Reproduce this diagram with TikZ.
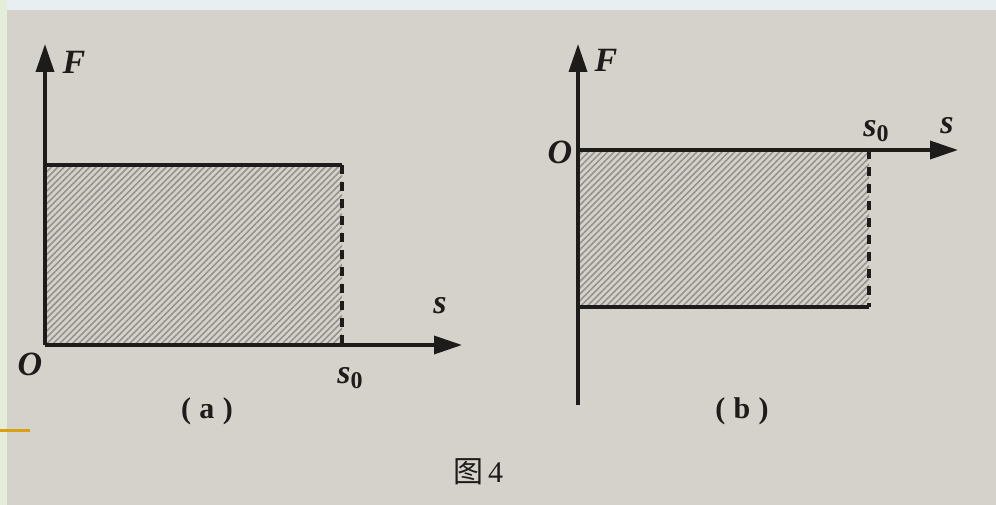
\documentclass[tikz,border=0pt]{standalone}
\usepackage{fontspec}
\setmainfont{Liberation Serif}
\newfontfamily\cjk{Noto Sans CJK SC}
\usetikzlibrary{arrows.meta,patterns.meta}
\definecolor{paper}{HTML}{D5D2CC}
\definecolor{hatchbg}{HTML}{C2BFBA}
\definecolor{hatchln}{HTML}{96938F}
\definecolor{ink}{HTML}{1E1C1A}
\definecolor{stripg}{HTML}{E4ECDA}
\definecolor{stripb}{HTML}{E8EEF2}
\definecolor{ylw}{HTML}{D9A012}
\tikzset{
  axis/.style={draw=ink,line width=3.5pt,-{Triangle[length=28pt,width=18pt]}},
  edge/.style={draw=ink,line width=3.5pt},
  dashedge/.style={draw=ink,line width=3.5pt,dash pattern=on 9pt off 8pt},
  hatch/.style={fill=hatchbg,pattern={Lines[angle=45,distance=4.5pt,line width=1.6pt]},pattern color=hatchln},
  lbl/.style={text=ink,font=\fontsize{34}{36}\selectfont\bfseries\itshape,inner sep=0pt},
  sublbl/.style={text=ink,font=\fontsize{30}{32}\selectfont\bfseries,inner sep=0pt},
  figcap/.style={text=ink,font=\fontsize{30}{32}\selectfont,inner sep=0pt}
}
\newcommand{\subzero}{\raisebox{-5pt}{\fontsize{24}{26}\selectfont\upshape 0}}
\begin{document}
\begin{tikzpicture}[x=1pt,y=-1pt]
\useasboundingbox (0,0) rectangle (996,505);
\fill[paper] (0,0) rectangle (996,505);
\fill[stripb] (0,0) rectangle (996,10);
\fill[stripg] (0,0) rectangle (7,505);
\draw[ylw,line width=3pt] (0,430) -- (30,430);
% panel (a)
\coordinate (aO) at (45,345);
\coordinate (aTop) at (45,44);
\coordinate (aRight) at (462,345);
\coordinate (aR1) at (45,165);
\coordinate (aR2) at (342,165);
\coordinate (aR3) at (342,345);
\fill[hatch] (aO) rectangle (aR2);
\draw[edge] (aR1) -- (aR2);
\draw[dashedge] (aR2) -- (aR3);
\draw[axis] (aO) -- (aTop);
\draw[axis] (aO) -- (aRight);
\node[lbl] (aF) at (74,62) {F};
\node[lbl] (aOl) at (30,364) {O};
\node[lbl] (as) at (440,306) {s};
\node[lbl] (as0) at (350,378) {s\subzero};
\node[sublbl] (alab) at (207,411) {(\;a\;)};
% panel (b)
\coordinate (bO) at (578,150);
\coordinate (bBot) at (578,405);
\coordinate (bTop) at (578,44);
\coordinate (bRight) at (958,150);
\coordinate (bR1) at (578,307);
\coordinate (bR2) at (869,307);
\coordinate (bR3) at (869,150);
\fill[hatch] (bO) rectangle (bR2);
\draw[edge] (bR1) -- (bR2);
\draw[dashedge] (bR3) -- (bR2);
\draw[edge] (bBot) -- (bO);
\draw[axis] (bO) -- (bTop);
\draw[axis] (bO) -- (bRight);
\node[lbl] (bF) at (606,60) {F};
\node[lbl] (bOl) at (560,152) {O};
\node[lbl] (bs) at (947,126) {s};
\node[lbl] (bs0) at (876,131) {s\subzero};
\node[sublbl] (blab) at (742,411) {(\;b\;)};
\node[figcap] (fig) at (478,472) {{\cjk 图}\,4};
\end{tikzpicture}
\end{document}
